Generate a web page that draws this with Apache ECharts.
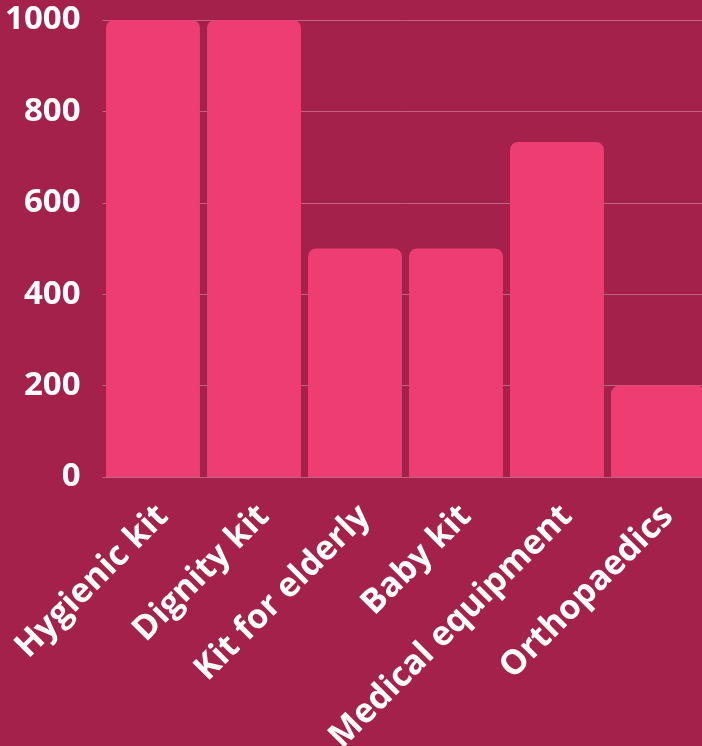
<!DOCTYPE html>
<html>
<head>
<meta charset="utf-8">
<script src="https://cdn.jsdelivr.net/npm/echarts@6/dist/echarts.min.js"></script>
<style>
html,body{margin:0;padding:0;background:#A3214A;overflow:hidden;}
#c{width:702px;height:746px;}
</style>
</head>
<body>
<div id="c"></div>
<script>
const categories = ["Hygienic kit", "Dignity kit", "Kit for elderly", "Baby kit", "Medical equipment", "Orthopaedics"];
const values = [1000, 1000, 500, 500, 733, 200];

const chart = echarts.init(document.getElementById('c'));
chart.setOption({
  backgroundColor: '#A3214A',
  animation: false,
  grid: { left: 102.5, right: -6.5, top: 20, bottom: 269, containLabel: false, outerBoundsMode: 'none' },
  xAxis: {
    type: 'category',
    data: categories,
    axisLine: { show: false },
    axisTick: { show: false },
    axisLabel: {
      rotate: 45,
      interval: 0,
      color: '#ffffff',
      fontFamily: 'Open Sans',
      fontWeight: 'bold',
      fontSize: 34,
      lineHeight: 28,
      verticalAlign: 'top',
      margin: 24
    }
  },
  yAxis: {
    type: 'value',
    min: 0,
    max: 1000,
    interval: 200,
    axisLine: { show: false },
    axisTick: { show: false },
    splitLine: { lineStyle: { color: 'rgba(255,255,255,0.3)', width: 1 } },
    axisLabel: {
      color: '#ffffff',
      fontFamily: 'Open Sans',
      fontWeight: 'bold',
      fontSize: 33,
      margin: 22,
      formatter: function (v) { return String(v); }
    }
  },
  series: [{
    type: 'bar',
    data: values,
    barCategoryGap: '7%',
    itemStyle: { color: '#EE3D72', borderRadius: [8, 8, 0, 0] }
  }]
});
</script>
</body>
</html>
